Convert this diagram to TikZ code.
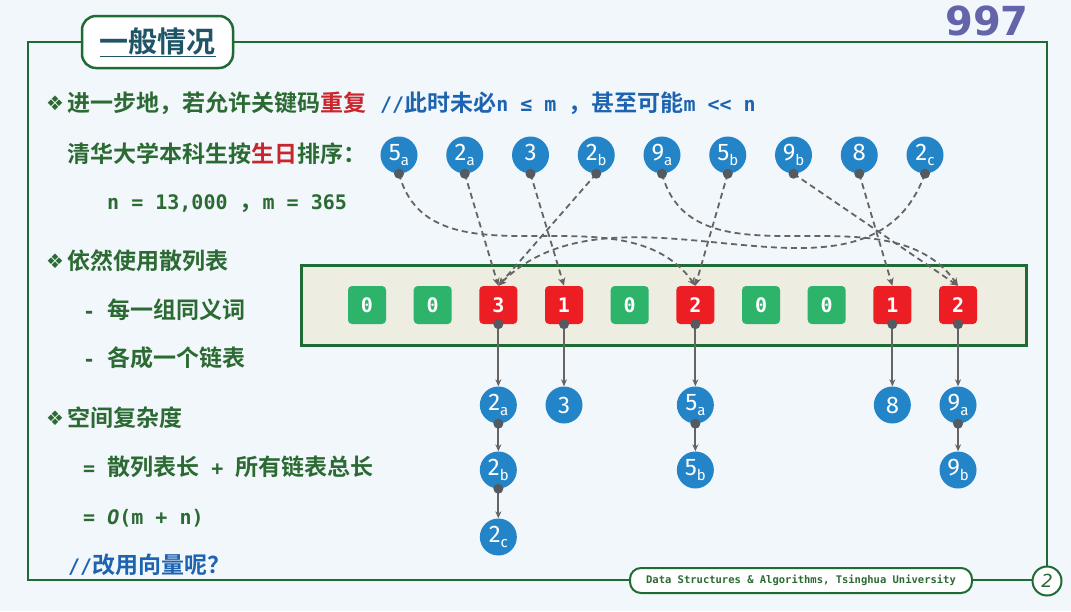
\documentclass[tikz,border=0pt]{standalone}
\usepackage{fontspec}
\usepackage{xcolor}
\usetikzlibrary{arrows.meta,positioning}
\setmainfont{Noto Sans CJK SC}[BoldFont={Noto Sans CJK SC Bold}]
\setmonofont{DejaVu Sans Mono}
\newfontfamily\symfont{DejaVu Sans}
\newfontfamily\keyfont{Fira Sans}
\definecolor{bgblue}{HTML}{F1F7FB}
\definecolor{framegreen}{HTML}{1F6B34}
\definecolor{textgreen}{HTML}{2C6A33}
\definecolor{hotred}{HTML}{C8262C}
\definecolor{noteblue}{HTML}{1E63B0}
\definecolor{titleteal}{HTML}{1F5566}
\definecolor{numpurple}{HTML}{6464AA}
\definecolor{keyblue}{HTML}{2385C7}
\definecolor{cellgreen}{HTML}{2DB36A}
\definecolor{cellred}{HTML}{EC1E24}
\definecolor{tablefill}{HTML}{EEEDE1}
\definecolor{pingray}{HTML}{545A60}
\definecolor{linegray}{HTML}{646464}
\newcommand\keysub[1]{\raisebox{-0.35ex}{\fontsize{15}{15}\selectfont #1}}
\newcommand\monob{\ttfamily\bfseries}

\begin{document}
\begin{tikzpicture}[x=1pt,y=1pt,>=Stealth,every node/.style={inner sep=0pt},
  key/.style={circle,fill=keyblue,minimum size=37pt,text=white,font=\keyfont\fontsize{24}{24}\selectfont},
  cell/.style={rounded corners=4pt,minimum size=38pt,text=white,font=\monob\fontsize{20}{20}\selectfont},
  pin/.style={circle,fill=pingray,minimum size=10pt},
  bullet/.style={text=textgreen,font=\symfont\fontsize{20}{20}\selectfont},
  txt/.style={anchor=base west,text=textgreen,font=\bfseries\fontsize{23}{23}\selectfont},
  hashline/.style={draw=linegray,line width=1.8pt,dash pattern=on 6pt off 4pt,-{Stealth[length=8pt,width=7pt]}},
  chainline/.style={draw=linegray,line width=1.8pt,-{Stealth[length=7pt,width=6pt]}}]
  \fill[bgblue] (0,0) rectangle (1071,-611);
  \useasboundingbox (0,0) rectangle (1071,-611);
  % frame, title and footer
  \draw[framegreen,line width=2.5pt] (28,-42) rectangle (1047,-580);
  \node[draw=framegreen,line width=2.5pt,fill=white,rounded corners=14pt,minimum width=151pt,minimum height=52pt,
    text=titleteal,font=\bfseries\fontsize{29}{29}\selectfont] (title) at (157.5,-42) {\underline{一般情况}};
  \node[text=numpurple,font=\symfont\bfseries\fontsize{40}{40}\selectfont] (slidenum) at (987,-21) {997};
  \node[draw=framegreen,line width=2pt,fill=white,rounded corners=11pt,minimum width=342pt,minimum height=25pt,
    text=textgreen,font=\monob\fontsize{10.5}{10.5}\selectfont] (footer) at (801,-580.5) {Data Structures \& Algorithms, Tsinghua University};
  \node[circle,draw=framegreen,line width=2pt,fill=white,minimum size=29pt,text=textgreen,
    font=\symfont\itshape\fontsize{18}{18}\selectfont] (pagenum) at (1047,-581) {2};

  % left column text
  \node[bullet] (b1) at (55,-103) {❖};
  \node[txt] (line1) at (67,-111) {进一步地，若允许关键码\textcolor{hotred}{重复}\hspace{14pt}\textcolor{noteblue}{{\monob\fontsize{20}{20}\selectfont //}此时未必{\monob\fontsize{20}{20}\selectfont n ≤ m }，甚至可能{\monob\fontsize{20}{20}\selectfont m << n}}};
  \node[txt] (line2) at (67,-162) {清华大学本科生按\textcolor{hotred}{生日}排序：};
  \node[txt,font=\monob\fontsize{20}{20}\selectfont] (line3) at (107,-209) {n = 13,000 {\bfseries\rmfamily\fontsize{23}{23}\selectfont ，}m = 365};
  \node[bullet] (b2) at (55,-261) {❖};
  \node[txt] (line4) at (67,-269) {依然使用散列表};
  \node[txt] (line5) at (83,-318) {{\monob\fontsize{20}{20}\selectfont - }每一组同义词};
  \node[txt] (line6) at (83,-366) {{\monob\fontsize{20}{20}\selectfont - }各成一个链表};
  \node[bullet] (b3) at (55,-418) {❖};
  \node[txt] (line7) at (67,-426) {空间复杂度};
  \node[txt] (line8) at (83,-475) {{\monob\fontsize{20}{20}\selectfont = }散列表长{\monob\fontsize{20}{20}\selectfont{} + }所有链表总长};
  \node[txt,font=\monob\fontsize{20}{20}\selectfont] (line9) at (83,-524) {= \textit{O}(m + n)};
  \node[txt,text=noteblue] (line10) at (68,-573) {{\monob\fontsize{20}{20}\selectfont //}改用向量呢？};

  % hash table
  \draw[framegreen,fill=tablefill,line width=3pt] (301,-265) rectangle (1026,-345);
  \foreach \v [count=\i from 0] in {0,0,3,1,0,2,0,0,1,2}{
    \ifnum\v=0 \def\cc{cellgreen}\else\def\cc{cellred}\fi
    \node[cell,fill=\cc] (c\i) at (367+65.67*\i,-305) {\v};
  }

  % keys to be hashed
  \foreach \d/\s [count=\i from 0] in {5/a,2/a,3/,2/b,9/a,5/b,9/b,8/,2/c}
    \node[key] (t\d\s) at (399+65.75*\i,-155) {\d\keysub{\s}};

  % chains
  \node[key] (ch2a) at (c2 |- 0,-405) {2\keysub{a}};
  \node[key] (ch2b) at (c2 |- 0,-470) {2\keysub{b}};
  \node[key] (ch2c) at (c2 |- 0,-537) {2\keysub{c}};
  \node[key] (ch3) at (c3 |- 0,-405) {3};
  \node[key] (ch5a) at (c5 |- 0,-405) {5\keysub{a}};
  \node[key] (ch5b) at (c5 |- 0,-470) {5\keysub{b}};
  \node[key] (ch8) at (c8 |- 0,-405) {8};
  \node[key] (ch9a) at (c9 |- 0,-405) {9\keysub{a}};
  \node[key] (ch9b) at (c9 |- 0,-470) {9\keysub{b}};

  \draw[hashline] (t5a.south) to[out=-75,in=125] (c5.north);
  \draw[hashline] (t2a.south) -- (c2.north);
  \draw[hashline] (t3.south) -- (c3.north);
  \draw[hashline] (t2b.south) -- (c2.north);
  \draw[hashline] (t9a.south) to[out=-75,in=125] (c9.north);
  \draw[hashline] (t5b.south) -- (c5.north);
  \draw[hashline] (t9b.south) -- (c9.north);
  \draw[hashline] (t8.south) -- (c8.north);
  \draw[hashline] (t2c.south) to[out=-110,in=45] (c2.north);

  \draw[chainline] (c2.south) -- (ch2a);
  \draw[chainline] (ch2a.south) -- (ch2b);
  \draw[chainline] (ch2b.south) -- (ch2c);
  \draw[chainline] (c3.south) -- (ch3);
  \draw[chainline] (c5.south) -- (ch5a);
  \draw[chainline] (ch5a.south) -- (ch5b);
  \draw[chainline] (c8.south) -- (ch8);
  \draw[chainline] (c9.south) -- (ch9a);
  \draw[chainline] (ch9a.south) -- (ch9b);

  % pins
  \foreach \n in {t5a,t2a,t3,t2b,t9a,t5b,t9b,t8,t2c,c2,c3,c5,c8,c9,ch2a,ch2b,ch5a,ch9a}
    \node[pin] (\n pin) at (\n.south) {};
\end{tikzpicture}
\end{document}
